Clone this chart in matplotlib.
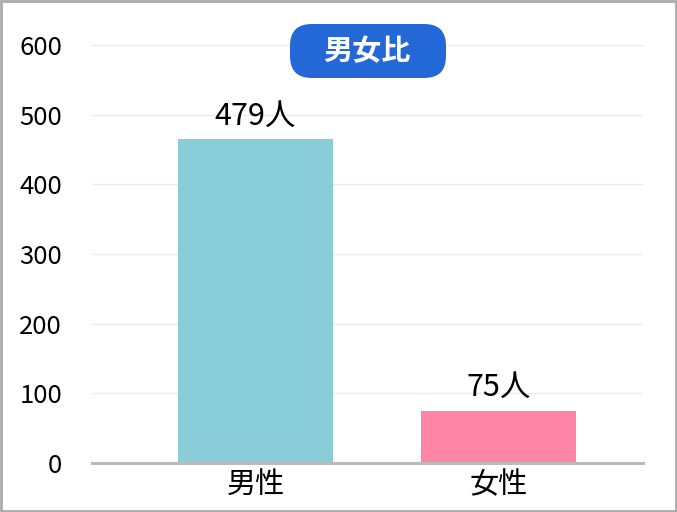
import matplotlib
matplotlib.use("Agg")
import matplotlib.pyplot as plt
from matplotlib.patches import FancyBboxPatch, Rectangle

plt.rcParams['font.family'] = ['Noto Sans CJK JP', 'DejaVu Sans']

categories = ["男性", "女性"]
counts = [465, 75]
count_labels = ["479人", "75人"]
bar_colors = ["#89CDD9", "#FF85A6"]
yticks = [0, 100, 200, 300, 400, 500, 600]
title = "男女比"

fig = plt.figure(figsize=(6.77, 5.12), dpi=100)
ax = fig.add_axes([92 / 677, 49 / 512, 551 / 677, 418 / 512])

x = list(range(len(categories)))
bars = ax.bar(x, counts, width=0.638, color=bar_colors, zorder=2)
for b, lab in zip(bars, count_labels):
    ax.text(b.get_x() + b.get_width() / 2, b.get_height() + 11, lab,
            ha="center", va="bottom", fontsize=22, color="black")

ax.set_xlim(-0.673, 1.595)
ax.set_ylim(0, 600)
ax.set_yticks(yticks)
ax.set_yticklabels([str(v) for v in yticks], fontsize=18.5)
ax.set_xticks(x)
ax.set_xticklabels(categories, fontsize=21)
ax.tick_params(axis="both", length=0, colors="black")
ax.tick_params(axis="y", pad=21.5)
ax.tick_params(axis="x", pad=5)
ax.grid(axis="y", color="#EBEBEB", linewidth=1, zorder=0)
for s in ["top", "right", "left"]:
    ax.spines[s].set_visible(False)
ax.spines["bottom"].set_color("#BBBBBB")
ax.spines["bottom"].set_linewidth(2.2)
ax.spines["bottom"].set_zorder(3)

# title pill
pill = FancyBboxPatch((290 / 677, 1 - 78 / 512), 156 / 677, 54 / 512,
                      boxstyle="round,pad=0,rounding_size=0.032",
                      transform=fig.transFigure, facecolor="#2468D8",
                      edgecolor="none", zorder=5, mutation_aspect=677 / 512)
fig.add_artist(pill)
fig.text(367 / 677, 1 - 51 / 512, title, ha="center", va="center",
         fontsize=21, fontweight="bold", color="white", zorder=6)

# outer frame
fig.add_artist(Rectangle((0.0015, 0.002), 0.997, 0.996, transform=fig.transFigure,
                         fill=False, edgecolor="#AAAAAA", linewidth=2))

fig.savefig("out.png", dpi=100)
